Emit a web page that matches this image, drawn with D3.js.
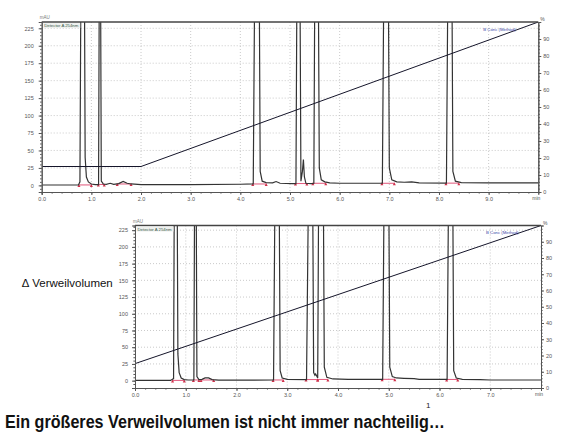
<!DOCTYPE html>
<html>
<head>
<meta charset="utf-8">
<script src="https://cdn.jsdelivr.net/npm/d3@7"></script>
<style>
  body { margin: 0; background: #fff; }
  text { font-family: "Liberation Sans", Arial, sans-serif; }
</style>
</head>
<body>
<script>
//
// Data
//

// chromatogram, first run: [time in min, signal in mAU]
var topTrace = [
  [0.00, 0.5], [0.40, 0.5], [0.74, 0.6], [0.77, 5], [0.79, 300], [0.86, 300],
  [0.875, 40], [0.90, 12], [0.94, 5], [1.00, 2], [1.08, 1.2], [1.145, 1.2],
  [1.16, 300], [1.185, 300], [1.20, 6], [1.24, 2], [1.30, 1.5], [1.38, 3],
  [1.45, 1.5], [1.55, 2.5], [1.64, 5.5], [1.72, 3], [1.80, 2], [2.00, 1.2],
  [3.00, 1.2], [4.00, 1.6], [4.26, 2], [4.29, 300], [4.38, 300], [4.40, 20],
  [4.44, 6], [4.52, 4], [4.65, 3.5], [4.72, 5.5], [4.80, 3], [5.05, 2.5],
  [5.12, 2.5], [5.14, 300], [5.20, 300], [5.22, 6], [5.25, 20], [5.27, 37],
  [5.29, 12], [5.32, 3], [5.42, 2.5], [5.48, 3], [5.50, 300], [5.57, 300],
  [5.59, 25], [5.63, 8], [5.70, 5], [5.80, 3.5], [6.00, 3], [6.86, 3],
  [6.89, 300], [6.98, 300], [7.00, 25], [7.05, 8], [7.15, 5], [7.30, 4.5],
  [7.45, 5], [7.60, 3.5], [8.15, 3.2], [8.18, 300], [8.26, 300], [8.28, 20],
  [8.33, 6], [8.45, 4], [9.00, 3.5], [10.00, 3.5]
]

// chromatogram, second run (smaller dwell volume)
var bottomTrace = [
  [0.00, 0.3], [0.70, 0.3], [0.76, 3], [0.775, 300], [0.83, 300], [0.845, 40],
  [0.87, 12], [0.91, 4], [0.97, 1.5], [1.05, 1], [1.16, 1], [1.175, 300],
  [1.205, 300], [1.22, 6], [1.26, 1.5], [1.32, 2], [1.38, 4], [1.45, 4],
  [1.52, 1.5], [1.65, 0.8], [2.00, 0.8], [2.73, 1], [2.76, 300], [2.84, 300],
  [2.86, 15], [2.90, 4], [3.00, 2], [3.38, 1.5], [3.42, 300], [3.50, 300],
  [3.52, 12], [3.545, 8], [3.56, 10], [3.60, 4], [3.62, 300], [3.71, 300],
  [3.73, 20], [3.78, 5], [3.90, 2.5], [4.20, 2], [4.88, 2], [4.91, 300],
  [5.00, 300], [5.02, 20], [5.07, 6], [5.15, 4], [5.30, 3.5], [5.50, 3],
  [5.60, 2], [6.15, 1.8], [6.18, 300], [6.26, 300], [6.28, 15], [6.33, 4],
  [6.45, 2], [6.80, 1.5], [7.00, 1], [8.00, 1]
]

// B concentration (method), [time in min, %]
var topGradient = [[0, 15], [2, 15], [10, 100]]
var bottomGradient = [[0, 15], [8, 100]]

// integrated peak windows [start, end, baseline mAU]
var topPeaks = [
  [0.75, 1.00, 0.6], [1.14, 1.26, 1.3], [1.52, 1.80, 2], [4.25, 4.52, 2],
  [5.11, 5.34, 2.6], [5.46, 5.72, 3], [6.85, 7.10, 3], [8.14, 8.40, 3.2]
]
var bottomPeaks = [
  [0.74, 0.97, 0.4], [1.15, 1.26, 1], [1.30, 1.55, 1], [2.72, 2.92, 1],
  [3.37, 3.60, 1.6], [3.60, 3.80, 1.8], [4.87, 5.12, 2], [6.14, 6.36, 1.8]
]

// ticks
var signalTicks = [0, 25, 50, 75, 100, 125, 150, 175, 200, 225]
var percentTicks = [0, 10, 20, 30, 40, 50, 60, 70, 80, 90]
var topTimeTicks = [0, 1, 2, 3, 4, 5, 6, 7, 8, 9]
var bottomTimeTicks = [0, 1, 2, 3, 4, 5, 6, 7]

//
// Setup
//

var svg = d3.select('body').append('svg')
  .attr('width', 580)
  .attr('height', 435)

var colorTrace = '#333'
var colorGradient = '#15152a'
var colorGrid = '#bdbdbd'
var colorAxis = '#555'
var colorIntegration = '#e0557a'

var panels = [
  { id: 'top', trace: topTrace, gradient: topGradient, peaks: topPeaks,
    timeTicks: topTimeTicks, tMax: 10, sMin: -9.5, sMax: 234, pad: 5,
    left: 41.7, right: 538.3, top: 22, bottom: 192 },
  { id: 'bottom', trace: bottomTrace, gradient: bottomGradient, peaks: bottomPeaks,
    timeTicks: bottomTimeTicks, tMax: 8, sMin: -11, sMax: 232, pad: 4,
    left: 135, right: 541, top: 225.5, bottom: 388 }
]

//
// Functions
//

function minorTicks(lo, hi, step) {
  var out = []
  for (var v = lo; v <= hi + 1e-9; v += step) out.push(+v.toFixed(3))
  return out
}

function styleAxis(g) {
  g.selectAll('.domain').attr('stroke', colorAxis)
  g.selectAll('.tick line').attr('stroke', colorAxis)
  g.selectAll('.tick text').attr('fill', '#555').attr('font-size', 5.5)
    .attr('font-family', '"Liberation Sans", Arial, sans-serif')
}

function drawPanel(p) {
  var x = d3.scaleLinear().domain([0, p.tMax]).range([p.left, p.right])
  var y = d3.scaleLinear().domain([p.sMin, p.sMax]).range([p.bottom, p.top])
  var yp = d3.scaleLinear().domain([0, 100]).range([p.bottom, p.top])
  var g = svg.append('g')

  g.append('clipPath').attr('id', 'clip-' + p.id)
    .append('rect')
    .attr('x', p.left).attr('y', p.top)
    .attr('width', p.right - p.left).attr('height', p.bottom - p.top)

  // grid
  g.append('g').selectAll('line.h')
    .data(signalTicks.filter(function(d) { return d > 0 }))
    .join('line')
    .attr('x1', p.left).attr('x2', p.right)
    .attr('y1', function(d) { return y(d) }).attr('y2', function(d) { return y(d) })
    .attr('stroke', colorGrid).attr('stroke-dasharray', '1,2').attr('stroke-width', 0.8)
  g.append('g').selectAll('line.v')
    .data(d3.range(1, p.tMax))
    .join('line')
    .attr('x1', function(d) { return x(d) }).attr('x2', function(d) { return x(d) })
    .attr('y1', p.top).attr('y2', p.bottom)
    .attr('stroke', colorGrid).attr('stroke-dasharray', '1,2').attr('stroke-width', 0.8)

  var plot = g.append('g').attr('clip-path', 'url(#clip-' + p.id + ')')

  // integration baselines
  plot.selectAll('line.int')
    .data(p.peaks)
    .join('line')
    .attr('x1', function(d) { return x(d[0]) }).attr('x2', function(d) { return x(d[1]) })
    .attr('y1', function(d) { return y(d[2]) }).attr('y2', function(d) { return y(d[2]) })
    .attr('stroke', colorIntegration).attr('stroke-width', 1)
  plot.selectAll('path.mark')
    .data(p.peaks.flatMap(function(d) { return [[d[0], d[2]], [d[1], d[2]]] }))
    .join('path')
    .attr('d', function(d) {
      var cx = x(d[0]), cy = y(d[1])
      return 'M' + (cx - 1.5) + ',' + (cy + 2) + 'L' + cx + ',' + (cy - 1) + 'L' + (cx + 1.5) + ',' + (cy + 2) + 'Z'
    })
    .attr('fill', '#d0304a')

  // chromatogram
  plot.append('path')
    .datum(p.trace)
    .attr('d', d3.line().x(function(d) { return x(d[0]) }).y(function(d) { return y(d[1]) }))
    .attr('fill', 'none').attr('stroke', colorTrace).attr('stroke-width', 1.2)

  // B conc
  plot.append('path')
    .datum(p.gradient)
    .attr('d', d3.line().x(function(d) { return x(d[0]) }).y(function(d) { return yp(d[1]) }))
    .attr('fill', 'none').attr('stroke', colorGradient).attr('stroke-width', 1)

  // frame top
  g.append('line')
    .attr('x1', p.left).attr('x2', p.right).attr('y1', p.top).attr('y2', p.top)
    .attr('stroke', '#444').attr('stroke-width', 1.6)

  // left axis
  var la = g.append('g').attr('transform', 'translate(' + p.left + ',0)')
    .call(d3.axisLeft(y).tickValues(signalTicks).tickSize(3).tickPadding(p.pad))
  styleAxis(la)
  var lm = g.append('g').attr('transform', 'translate(' + p.left + ',0)')
    .call(d3.axisLeft(y).tickValues(minorTicks(-5, 230, 5)).tickSize(1.6).tickFormat(''))
  styleAxis(lm)

  // right axis
  var ra = g.append('g').attr('transform', 'translate(' + p.right + ',0)')
    .call(d3.axisRight(yp).tickValues(percentTicks).tickSize(3).tickPadding(2))
  styleAxis(ra)
  var rm = g.append('g').attr('transform', 'translate(' + p.right + ',0)')
    .call(d3.axisRight(yp).tickValues(minorTicks(0, 100, 2)).tickSize(1.6).tickFormat(''))
  styleAxis(rm)

  // bottom axis
  var ba = g.append('g').attr('transform', 'translate(0,' + p.bottom + ')')
    .call(d3.axisBottom(x).tickValues(p.timeTicks).tickSize(3).tickPadding(2).tickFormat(d3.format('.1f')))
  styleAxis(ba)
  var bm = g.append('g').attr('transform', 'translate(0,' + p.bottom + ')')
    .call(d3.axisBottom(x).tickValues(minorTicks(0, p.tMax, 0.2)).tickSize(1.6).tickFormat(''))
  styleAxis(bm)

  // small captions
  g.append('text').attr('x', p.left - 2).attr('y', p.top - 3)
    .attr('font-size', 4.5).attr('fill', '#777').text('mAU')
  g.append('text').attr('x', p.right + 2).attr('y', p.top - 1)
    .attr('font-size', 5).attr('fill', '#555').text('%')
  g.append('text').attr('x', p.right - 6).attr('y', p.bottom + 8)
    .attr('font-size', 5).attr('fill', '#555').text('min')
  g.append('rect').attr('x', p.left + 1.5).attr('y', p.top + 1)
    .attr('width', 37).attr('height', 5).attr('fill', '#eef0ee')
  g.append('text').attr('x', p.left + 2.5).attr('y', p.top + 5)
    .attr('font-size', 4.3).attr('fill', '#3a5a4a').text('Detector A 254nm')
  g.append('text').attr('x', p.right - 55).attr('y', p.top + 8.5)
    .attr('font-size', 4.3).attr('fill', '#3a46a8').text('B Conc (Method)')
}

//
// Render
//

panels.forEach(drawPanel)

svg.append('text')
  .attr('x', 22).attr('y', 287)
  .attr('font-size', 11.5).attr('fill', '#111')
  .text('\u2206 Verweilvolumen')

svg.append('text')
  .attr('x', 426).attr('y', 408)
  .attr('font-size', 8).attr('fill', '#222')
  .text('1')

svg.append('text')
  .attr('x', 5).attr('y', 428)
  .attr('font-size', 18).attr('font-weight', 'bold').attr('fill', '#111')
  .attr('textLength', 440).attr('lengthAdjust', 'spacingAndGlyphs')
  .text('Ein größeres Verweilvolumen ist nicht immer nachteilig\u2026')
</script>
</body>
</html>
